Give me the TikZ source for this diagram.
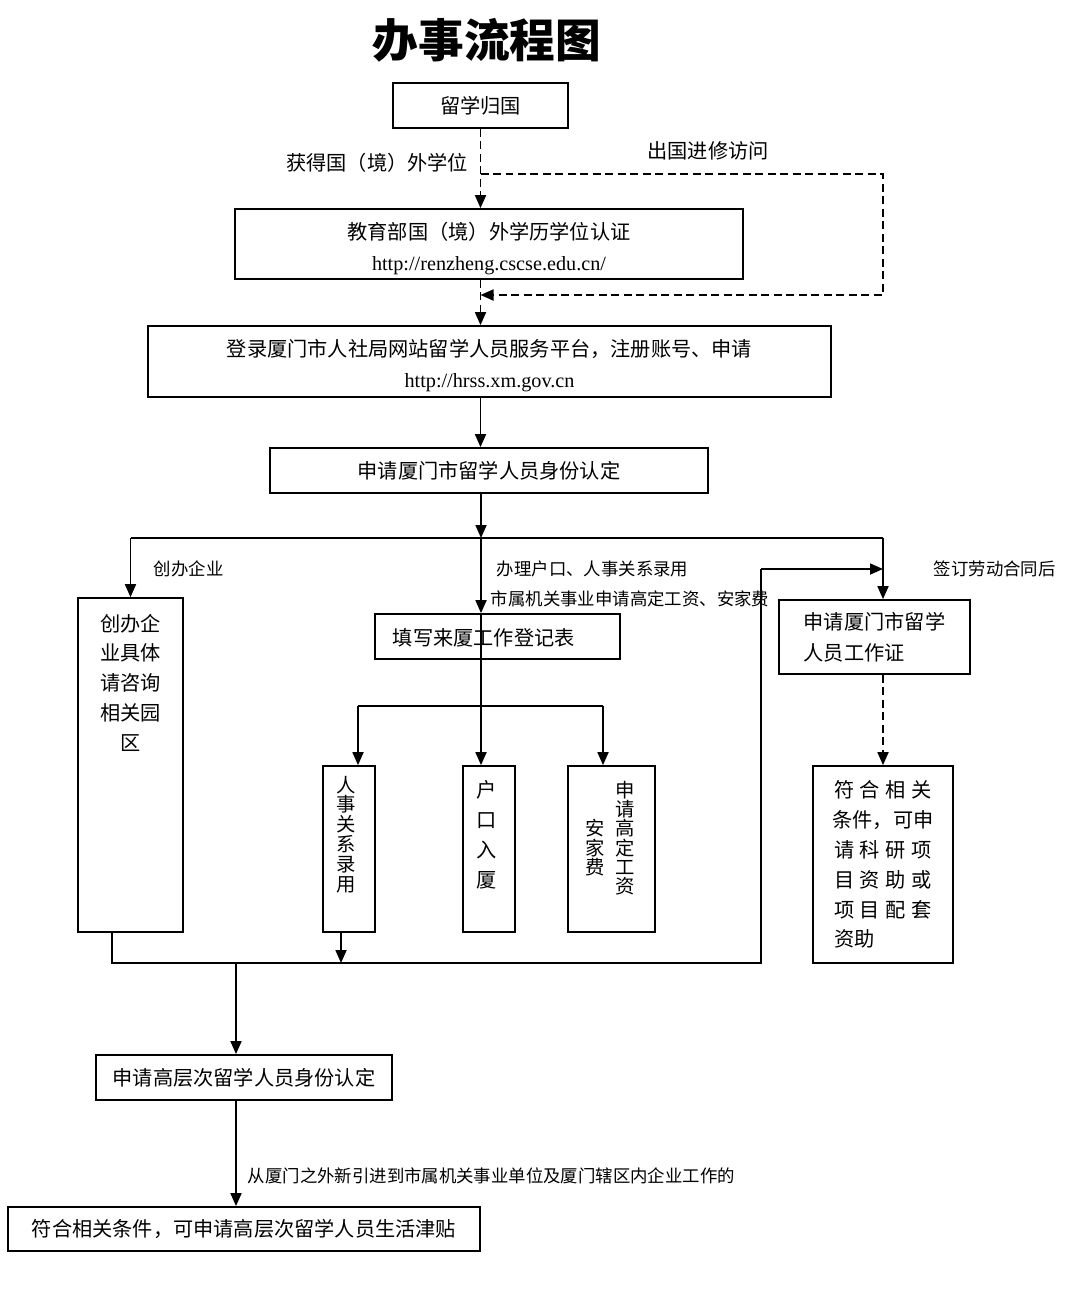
\documentclass[tikz,border=0pt]{standalone}
\usepackage{fontspec}
\setmainfont{Noto Sans CJK SC}
\newfontfamily\urlfont{Liberation Serif}
\usetikzlibrary{arrows.meta,positioning}

\tikzset{
  box/.style={draw, inner sep=0pt, font=\fontsize{11.5}{17.5}\selectfont},
  boxtext/.style={inner sep=0pt, align=center, font=\fontsize{11.5}{17}\selectfont},
  lbl/.style={inner sep=0pt, font=\fontsize{9.9}{12}\selectfont},
  arr/.style={-{Triangle[length=2.6mm,width=2.2mm]}},
  dline/.style={dash pattern=on 1.6mm off 0.9mm}
}
\newcommand\spreadline[1]{\makebox[1.96cm]{#1}}

\begin{document}
\begin{tikzpicture}[x=0.02cm,y=-0.02cm,line width=1pt]
\useasboundingbox (0,0) rectangle (1080,1302);

% title
\node[font=\fontsize{26}{30}\selectfont\bfseries] (title) at (487,40) {办事流程图};

% main column
\node[box, minimum width=3.5cm, minimum height=0.9cm] (liuxue) at (480.5,105.5) {留学归国};
\node[box, minimum width=10.16cm, minimum height=1.4cm] (renzheng) at (489,244) {};
\node[boxtext, font=\fontsize{11.5}{17.5}\selectfont] (renzhengtext) at (489,248.5)
  {教育部国（境）外学历学位认证\\{\urlfont http://renzheng.cscse.edu.cn/}};
\node[box, minimum width=13.66cm, minimum height=1.42cm] (denglu) at (489.5,361.5) {};
\node[boxtext, font=\fontsize{11.5}{17.5}\selectfont] (denglutext) at (489.5,365.5)
  {登录厦门市人社局网站留学人员服务平台，注册账号、申请\\{\urlfont http://hrss.xm.gov.cn}};
\node[box, minimum width=8.76cm, minimum height=0.9cm] (rending) at (489,470.5) {申请厦门市留学人员身份认定};

% branches
\node[box, minimum width=2.1cm, minimum height=6.68cm] (chuangban) at (130.5,765) {};
\node[boxtext, anchor=north] (chuangbantext) at (130.5,613) {创办企\\业具体\\请咨询\\相关园\\区};
\node[box, minimum width=4.9cm, minimum height=0.9cm] (tianxie) at (497.5,636.5) {};
\node[boxtext, anchor=west] (tianxietext) at (392,637.5) {填写来厦工作登记表};
\node[box, minimum width=3.82cm, minimum height=1.48cm, align=left] (gongzuozheng) at (874.5,637)
  {申请厦门市留学\\人员工作证};
\node[box, minimum width=2.8cm, minimum height=3.94cm, align=left, font=\fontsize{11.5}{17}\selectfont] (zizhu) at (883,864.5)
  {\spreadline{符\hfill 合\hfill 相\hfill 关}\\\spreadline{条件，\hfill 可\hfill 申}\\\spreadline{请\hfill 科\hfill 研\hfill 项}\\
   \spreadline{目\hfill 资\hfill 助\hfill 或}\\\spreadline{项\hfill 目\hfill 配\hfill 套}\\\makebox[1.96cm][l]{资助}};

% vertical boxes
\node[box, minimum width=1.04cm, minimum height=3.32cm] (renshi) at (349,849) {};
\node[boxtext, anchor=north, font=\fontsize{11}{11.3}\selectfont] (renshitext) at (346,775) {人\\事\\关\\系\\录\\用};
\node[box, minimum width=1.04cm, minimum height=3.32cm] (hukou) at (489,849) {};
\node[boxtext, anchor=north] (hukoutext) at (487,780) {户\\口\\入\\厦};
\node[box, minimum width=1.74cm, minimum height=3.32cm] (gaoding) at (611.5,849) {};
\node[boxtext, anchor=north, font=\fontsize{11}{11}\selectfont] (gaodingtext) at (625,780) {申\\请\\高\\定\\工\\资};
\node[boxtext, anchor=north, font=\fontsize{11}{11.3}\selectfont] (anjiatext) at (595,818) {安\\家\\费};

% bottom
\node[box, minimum width=5.92cm, minimum height=0.9cm] (gaoceng) at (244,1077.5) {申请高层次留学人员身份认定};
\node[box, minimum width=9.44cm, minimum height=0.88cm] (jintie) at (244,1229) {符合相关条件，可申请高层次留学人员生活津贴};

% labels
\node[lbl, anchor=east, font=\fontsize{11.5}{14}\selectfont] (xuewei) at (469,163) {获得国（境）外学位};
\node[lbl, font=\fontsize{11.5}{14}\selectfont] (jinxiu) at (708,151) {出国进修访问};
\node[lbl, anchor=west] (qiye) at (153,569) {创办企业};
\node[lbl, anchor=west] (banli) at (496,569) {办理户口、人事关系录用};
\node[lbl, anchor=west] (shishu) at (490,599) {市属机关事业申请高定工资、安家费};
\node[lbl, anchor=west] (hetong) at (933,569) {签订劳动合同后};
\node[lbl, anchor=west] (yinjin) at (247,1176) {从厦门之外新引进到市属机关事业单位及厦门辖区内企业工作的};

% connectors
\coordinate (loopA) at (883,174);
\coordinate (loopB) at (883,295);
\coordinate (fork) at (liuxue.south |- loopA);
\draw[dline, arr] (liuxue.south) -- (renzheng.north -| liuxue.south);
\draw[dline, arr] (fork) -- (loopA) -- (loopB) -- (loopB -| liuxue.south);
\draw[dline, arr] (renzheng.south -| liuxue.south) -- (denglu.north -| liuxue.south);
\draw[arr] (denglu.south -| liuxue.south) -- (rending.north -| liuxue.south);

\coordinate (bus) at (481,538);
\coordinate (busR) at (883,538);
\draw[arr] (rending.south -| bus) -- (bus);
\draw (chuangban.north |- bus) -- (busR);
\draw[arr] (chuangban.north |- bus) -- (chuangban.north);
\draw[arr] (bus) -- (tianxie.north -| bus);
\draw[arr] (busR) -- (busR |- gongzuozheng.north);
\draw[dline, arr] (busR |- gongzuozheng.south) -- (busR |- zizhu.north);

\coordinate (split) at (481,706);
\coordinate (splitL) at (358,706);
\coordinate (splitR) at (603,706);
\draw (tianxie.north -| bus) -- (split);
\draw (splitL) -- (splitR);
\draw[arr] (splitL) -- (splitL |- renshi.north);
\draw[arr] (split) -- (split |- hukou.north);
\draw[arr] (splitR) -- (splitR |- gaoding.north);

\coordinate (joinL) at (112,963);
\coordinate (joinR) at (761,963);
\coordinate (up) at (761,569);
\coordinate (enter) at (883,569);
\coordinate (renshiout) at (341,963);
\coordinate (down) at (236,963);
\draw (chuangban.south -| joinL) -- (joinL) -- (joinR) -- (up);
\draw[arr] (up) -- (enter);
\draw[arr] (renshiout |- renshi.south) -- (renshiout);
\draw[arr] (down) -- (down |- gaoceng.north);
\draw[arr] (gaoceng.south -| down) -- (jintie.north -| down);
\end{tikzpicture}
\end{document}
